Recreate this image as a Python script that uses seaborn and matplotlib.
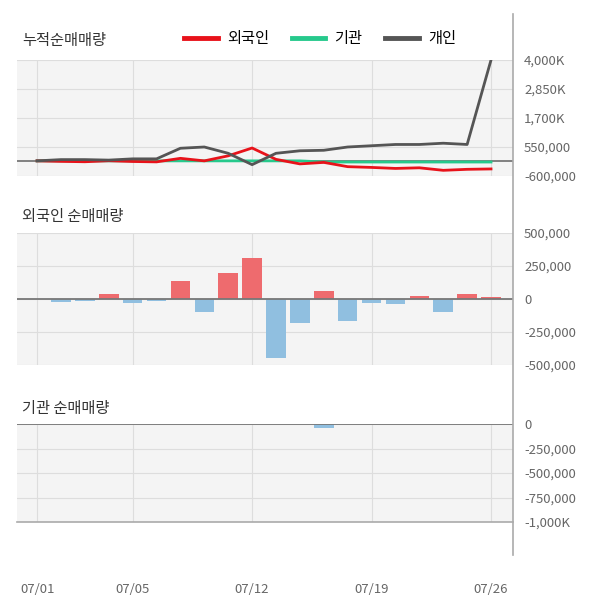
import numpy as np
import pandas as pd
import seaborn as sns
import matplotlib.pyplot as plt
from matplotlib.lines import Line2D

plt.rcParams["font.family"] = ["Noto Sans CJK KR", "Noto Sans CJK JP", "Noto Sans CJK SC", "DejaVu Sans"]

dates = ["07/01", "07/02", "07/03", "07/04", "07/05", "07/08", "07/09", "07/10", "07/11", "07/12",
         "07/15", "07/16", "07/17", "07/18", "07/19", "07/22", "07/23", "07/24", "07/25", "07/26"]
foreign = [0, -20000, -15000, 40000, -30000, -15000, 140000, -100000, 200000, 310000,
           -450000, -180000, 60000, -170000, -30000, -40000, 25000, -100000, 40000, 15000]
inst = [0, 0, 0, 0, 0, 0, 0, 0, 0, 0, 0, 0, -45000, 0, 0, 0, 0, 0, 0, 0]
cum_foreign = [0, -20, -35, 5, -25, -40, 100, 0, 200, 510, 60, -120, -60, -230, -260, -300, -275, -375, -335, -320]
cum_inst = [0, 0, 0, 0, 0, 0, 0, 0, 0, 0, 0, 0, -45, -45, -45, -45, -45, -45, -45, -45]
cum_indiv = [0, 50, 50, 30, 80, 80, 500, 550, 300, -150, 300, 400, 420, 550, 600, 650, 650, 700, 650, 4000]
tick_idx = [0, 4, 9, 14, 19]

idx = np.arange(len(dates))
RED, GREEN, GRAY = "#e8121a", "#26c98c", "#555555"
BG, GRID, TXT = "#f4f4f4", "#dddddd", "#666666"

fig = plt.figure(figsize=(6, 6.04), dpi=100)
W, H = 600, 604
def add_ax(top, bottom, left=17, right=513):
    return fig.add_axes([left / W, 1 - bottom / H, (right - left) / W, (bottom - top) / H])

ax1 = add_ax(60, 176)
ax2 = add_ax(233, 365)
ax3 = add_ax(424, 522)

def style(ax, ylim, yticks, ylabels):
    ax.set_facecolor(BG)
    ax.set_xlim(-0.84, 19.92)
    ax.set_ylim(*ylim)
    ax.set_xticks(tick_idx)
    ax.set_yticks(yticks)
    ax.yaxis.tick_right()
    ax.set_yticklabels(ylabels, color=TXT, fontsize=9.5)
    ax.tick_params(length=0, pad=8)
    ax.grid(True, color=GRID, lw=0.8)
    ax.set_axisbelow(True)
    for s in ax.spines.values():
        s.set_visible(False)
    ax.set_xlabel("")
    ax.set_ylabel("")
    ax.axhline(0, color="#777777", lw=1.3, zorder=3)

# cumulative lines
df = pd.DataFrame({"i": idx, "외국인": np.array(cum_foreign) * 1000,
                   "기관": np.array(cum_inst) * 1000, "개인": np.array(cum_indiv) * 1000})
for name, c in [("기관", GREEN), ("외국인", RED), ("개인", GRAY)]:
    sns.lineplot(data=df, x="i", y=name, ax=ax1, color=c, lw=2, zorder=4)
style(ax1, (-600000, 4000000), [4000000, 2850000, 1700000, 550000, -600000],
      ["4,000K", "2,850K", "1,700K", "550,000", "-600,000"])
ax1.set_xticklabels([])

def bars(ax, vals):
    d = pd.DataFrame({"i": idx, "v": vals, "s": ["p" if v >= 0 else "n" for v in vals]})
    sns.barplot(data=d, x="i", y="v", hue="s", palette={"p": "#ee6b6e", "n": "#90bfe0"},
                native_scale=True, width=0.82, saturation=1, legend=False, ax=ax, zorder=2)

bars(ax2, foreign)
style(ax2, (-500000, 500000), [500000, 250000, 0, -250000, -500000],
      ["500,000", "250,000", "0", "-250,000", "-500,000"])
ax2.set_xticklabels([])

bars(ax3, inst)
style(ax3, (-1000000, 0), [0, -250000, -500000, -750000, -1000000],
      ["0", "-250,000", "-500,000", "-750,000", "-1,000K"])
ax3.set_xticks(tick_idx)
ax3.set_xticklabels([dates[i] for i in tick_idx], color=TXT, fontsize=9.5)
ax3.tick_params(axis="x", pad=44)
ax3.spines["bottom"].set_visible(True)
ax3.spines["bottom"].set_color("#aaaaaa")
ax3.spines["bottom"].set_linewidth(1.2)

fig.add_artist(Line2D([513 / W, 513 / W], [1 - 555 / H, 1 - 14 / H], color="#aaaaaa", lw=1.2))

fig.text(22 / W, 1 - 40 / H, "누적순매매량", fontsize=11, color="#333333", va="center")
fig.text(22 / W, 1 - 216 / H, "외국인 순매매량", fontsize=11, color="#333333", va="center")
fig.text(22 / W, 1 - 408 / H, "기관 순매매량", fontsize=11, color="#333333", va="center")

handles = [Line2D([], [], color=c, lw=3.5) for c in (RED, GREEN, GRAY)]
fig.legend(handles, ["외국인", "기관", "개인"], loc="center", bbox_to_anchor=(320 / W, 1 - 39 / H),
           ncol=3, frameon=False, fontsize=11, handlelength=2.2, columnspacing=1.5, handletextpad=0.6)

fig.savefig("out.png", dpi=100)
